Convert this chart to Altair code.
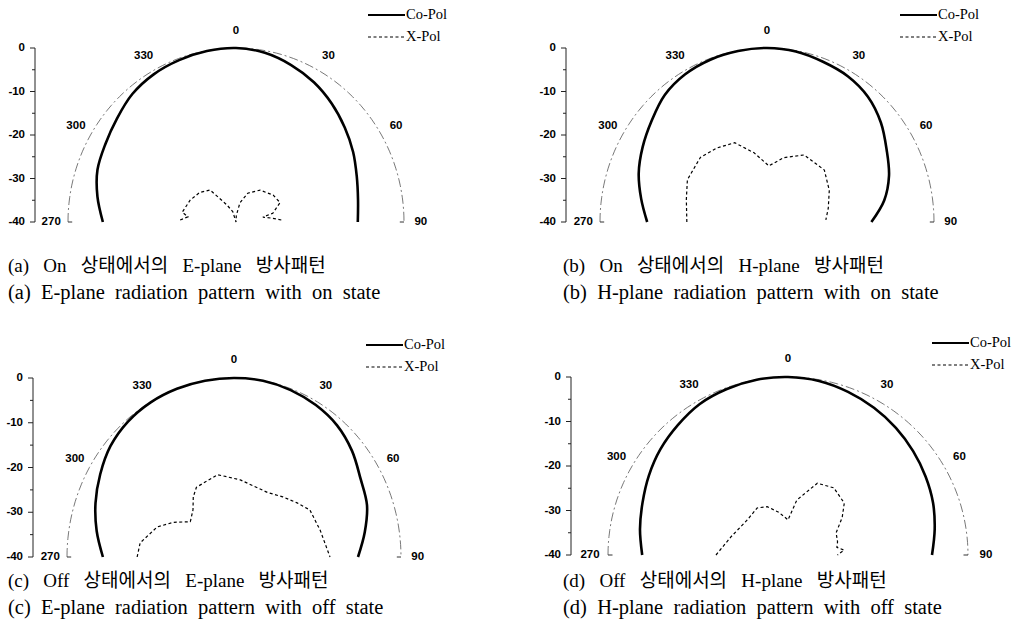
import altair as alt
import pandas as pd

W, H = 1029, 636

# ---------------- data ----------------
co_angles = [-90, -80, -70, -60, -50, -40, -30, -20, -10, 0, 10, 20, 30, 40, 50, 60, 70, 80, 90]
co_a = [-8.3, -6.5, -4.9, -4.1, -3.0, -1.6, -0.8, -0.4, -0.1, 0, -0.5, -1.6, -2.9, -4.5, -6.2, -7.8, -9.4, -10.5, -11.0]
co_b = [-11.3, -9.4, -7.3, -5.6, -3.9, -1.9, -0.8, -0.3, -0.1, 0, -0.2, -0.8, -1.3, -2.4, -4.4, -6.9, -8.9, -11.5, -15.0]
co_c = [-8.6, -6.6, -4.7, -3.0, -1.4, -0.5, -0.1, 0, 0, 0, 0, -0.3, -0.8, -1.6, -3.1, -5.0, -6.1, -8.2, -10.3]
co_d = [-7.6, -6.6, -5.6, -4.3, -3.0, -1.9, -0.8, -0.3, 0, 0, -0.3, -1.0, -1.8, -2.7, -3.7, -4.7, -5.7, -6.9, -8.0]

xa_ang = [-88, -84, -80, -65, -52, -40, -29, -18, -5, 3, 12, 23, 38, 55, 67, 72, 77, 80, 84, 88]
xa_db = [-26.7, -28.5, -27.0, -28.0, -29.0, -30.4, -35.5, -37.5, -40, -38.5, -35.5, -32.8, -30.7, -29.2, -28.6, -30.0, -31.0, -33.5, -31.5, -28.8]
xb_ang = [-90, -75, -63, -47, -35, -23, -11, 2, 15, 30, 49, 64, 78, 88]
xb_db = [-20.8, -20.0, -18.6, -18.2, -19.2, -20.2, -23.8, -27.1, -24.7, -22.2, -21.8, -23.4, -25.0, -25.9]
xc_ang = [-90, -82, -70, -62, -53, -43, -36, -30, -12, 5, 29, 41, 51, 60, 74, 90]
xc_db = [-16.8, -17.3, -20.4, -23.5, -26.9, -25.6, -23.4, -22.0, -21.2, -22.7, -23.5, -22.2, -20.7, -19.0, -18.5, -17.0]
xd_ang = [-90, -72, -49, -33, -23, -12, 0, 9, 22, 34, 47, 55, 65, 75, 81, 85, 88, 90]
xd_db = [-24, -26.7, -28, -27.4, -28.2, -30.2, -32.1, -27.5, -22.6, -21.8, -22.9, -25.3, -28.2, -28.6, -29, -27.5, -28.5, -29]

angle_ticks = [-90, -60, -30, 0, 30, 60, 90]
angle_labels = ["270", "300", "330", "0", "30", "60", "90"]
db_ticks = [0, -10, -20, -30, -40]
db_minor = [-5, -15, -25, -35]
grid_angles = list(range(-90, 91, 2))

legend_names = ["Co-Pol", "X-Pol"]
cap_ko = {
    "a": "(a) On 상태에서의 E-plane 방사패턴",
    "b": "(b) On 상태에서의 H-plane 방사패턴",
    "c": "(c) Off 상태에서의 E-plane 방사패턴",
    "d": "(d) Off 상태에서의 H-plane 방사패턴",
}
cap_en = {
    "a": "(a) E-plane radiation pattern with on state",
    "b": "(b) H-plane radiation pattern with on state",
    "c": "(c) E-plane radiation pattern with off state",
    "d": "(d) H-plane radiation pattern with off state",
}

# ---------------- layout (pixels) ----------------
layout = {
    "a": dict(cx=236, cy=222, rx=168, ry=174, ax=35, lx=368, ly=15, capx=8, capy=266),
    "b": dict(cx=767, cy=222, rx=167, ry=174, ax=566, lx=900, ly=15, capx=563, capy=266),
    "c": dict(cx=234, cy=557, rx=167, ry=179, ax=33, lx=366, ly=345, capx=8, capy=581),
    "d": dict(cx=788, cy=555, rx=180, ry=178, ax=571, lx=932, ly=343, capx=563, capy=581),
}

co = {"a": co_a, "b": co_b, "c": co_c, "d": co_d}
xp = {"a": (xa_ang, xa_db), "b": (xb_ang, xb_db), "c": (xc_ang, xc_db), "d": (xd_ang, xd_db)}

rows = []
for p, L in layout.items():
    for i, (a, v) in enumerate(zip(co_angles, co[p])):
        rows.append(dict(panel=p, series="co", i=i, ang=a, db=v, **L))
    for i, (a, v) in enumerate(zip(*xp[p])):
        rows.append(dict(panel=p, series="x", i=i, ang=a, db=v, **L))
    for i, a in enumerate(grid_angles):
        rows.append(dict(panel=p, series="grid", i=i, ang=a, db=0, **L))
curves = pd.DataFrame(rows)

lab_rows = []
for p, L in layout.items():
    for a, t in zip(angle_ticks, angle_labels):
        lab_rows.append(dict(panel=p, ang=a, label=t, rn=1.1, **L))
alabels = pd.DataFrame(lab_rows)

ax_rows = []
for p, L in layout.items():
    for v in db_ticks:
        ax_rows.append(dict(panel=p, db=v, tlen=5, label=str(v), **L))
    for v in db_minor:
        ax_rows.append(dict(panel=p, db=v, tlen=3, label="", **L))
axdf = pd.DataFrame(ax_rows)

leg_rows = []
for p, L in layout.items():
    for k, n in enumerate(legend_names):
        leg_rows.append(dict(panel=p, name=n, k=k, **L))
legdf = pd.DataFrame(leg_rows)

NB = "\u00a0"
cap_rows = []
for p, L in layout.items():
    cap_rows.append(dict(panel=p, line=0, text=cap_ko[p].replace(" ", NB + NB + " "), **L))
    cap_rows.append(dict(panel=p, line=1, text=cap_en[p].replace(" ", NB + " "), **L))
capdf = pd.DataFrame(cap_rows)

xs = alt.Scale(domain=[0, W], range=[0, W], nice=False, zero=False)
ys = alt.Scale(domain=[0, H], range=[0, H], nice=False, zero=False)

def polar(ch, rexpr="(datum.db + 40) / 40"):
    return ch.transform_calculate(rn2=rexpr).transform_calculate(
        px="datum.cx + datum.rx * datum.rn2 * sin(datum.ang * PI / 180)",
        py="datum.cy - datum.ry * datum.rn2 * cos(datum.ang * PI / 180)",
    )

X = alt.X("px:Q", scale=xs, axis=None)
Y = alt.Y("py:Q", scale=ys, axis=None)

base = alt.Chart(curves)

grid = polar(base.transform_filter("datum.series == 'grid'")).mark_line(
    color="#555555", strokeWidth=0.8, strokeDash=[9, 3, 2, 3]
).encode(x=X, y=Y, detail="panel:N", order="i:Q")

copol = polar(base.transform_filter("datum.series == 'co'")).mark_line(
    color="black", strokeWidth=2.6, interpolate="catmull-rom"
).encode(x=X, y=Y, detail="panel:N", order="i:Q")

xpol = polar(base.transform_filter("datum.series == 'x'")).mark_line(
    color="black", strokeWidth=1.2, strokeDash=[3, 2.5]
).encode(x=X, y=Y, detail="panel:N", order="i:Q")

alab = polar(alt.Chart(alabels), "datum.rn").mark_text(
    font="Liberation Sans", fontWeight="bold", fontSize=11.5, color="black",
    align="center", baseline="middle"
).encode(x=X, y=Y, text="label:N")

axc = alt.Chart(axdf).transform_calculate(
    py="datum.cy - datum.ry * (datum.db + 40) / 40",
    px="datum.ax",
    px0="datum.ax - datum.tlen",
    plab="datum.ax - 10",
    ptop="datum.cy - datum.ry",
)
axline = axc.transform_filter("datum.db == 0").mark_rule(color="#222222", strokeWidth=1).encode(
    x=X, y=alt.Y("ptop:Q", scale=ys, axis=None), y2=alt.Y2("cy:Q")
)
axticks = axc.mark_rule(color="#222222", strokeWidth=1).encode(
    x=alt.X("px0:Q", scale=xs, axis=None), x2="px:Q", y=Y
)
axlabels = axc.transform_filter("datum.tlen == 5").mark_text(
    font="Liberation Sans", fontWeight="bold", fontSize=11.5, color="black",
    align="right", baseline="middle"
).encode(x=alt.X("plab:Q", scale=xs, axis=None), y=Y, text="label:N")

endticks = polar(
    alt.Chart(pd.DataFrame([dict(panel=p, ang=a, r0=0.975, **L) for p, L in layout.items() for a in (-90, 90)])),
    "1",
).transform_calculate(
    px0="datum.cx + datum.rx * datum.r0 * sin(datum.ang * PI / 180)"
).mark_rule(color="#333333", strokeWidth=1).encode(
    x=X, x2="px0:Q", y=Y
)

legc = alt.Chart(legdf).transform_calculate(
    lx0="datum.lx", lx1="datum.lx + 37", tx="datum.lx + 38",
    lyy="datum.ly + datum.k * 22",
)
leg_co = legc.transform_filter("datum.k == 0").mark_rule(color="black", strokeWidth=2.2).encode(
    x=alt.X("lx0:Q", scale=xs, axis=None), x2="lx1:Q", y=alt.Y("lyy:Q", scale=ys, axis=None)
)
leg_x = legc.transform_filter("datum.k == 1").mark_rule(color="black", strokeWidth=1.1, strokeDash=[3, 2.5]).encode(
    x=alt.X("lx0:Q", scale=xs, axis=None), x2="lx1:Q", y=alt.Y("lyy:Q", scale=ys, axis=None)
)
leg_t = legc.mark_text(
    font="Liberation Serif", fontSize=14.5, color="black", align="left", baseline="middle"
).encode(x=alt.X("tx:Q", scale=xs, axis=None), y=alt.Y("lyy:Q", scale=ys, axis=None), text="name:N")

capc = alt.Chart(capdf).transform_calculate(
    tx="datum.capx", ty="datum.capy + datum.line * 27"
)
caps_ko = capc.transform_filter("datum.line == 0").mark_text(
    font="Liberation Serif, Noto Sans CJK KR", fontSize=19, color="black",
    align="left", baseline="middle"
).encode(x=alt.X("tx:Q", scale=xs, axis=None), y=alt.Y("ty:Q", scale=ys, axis=None), text="text:N")
caps_en = capc.transform_filter("datum.line == 1").mark_text(
    font="Liberation Serif", fontSize=20.5, color="black",
    align="left", baseline="middle"
).encode(x=alt.X("tx:Q", scale=xs, axis=None), y=alt.Y("ty:Q", scale=ys, axis=None), text="text:N")

chart = alt.layer(
    grid, copol, xpol, alab, axline, axticks, axlabels, endticks, leg_co, leg_x, leg_t, caps_ko, caps_en
).properties(
    width=W, height=H, padding=0, autosize=alt.AutoSizeParams(type="none"), background="white"
).configure_view(stroke=None)

chart.save("out.html", embed_options={"renderer": "svg", "actions": False})
